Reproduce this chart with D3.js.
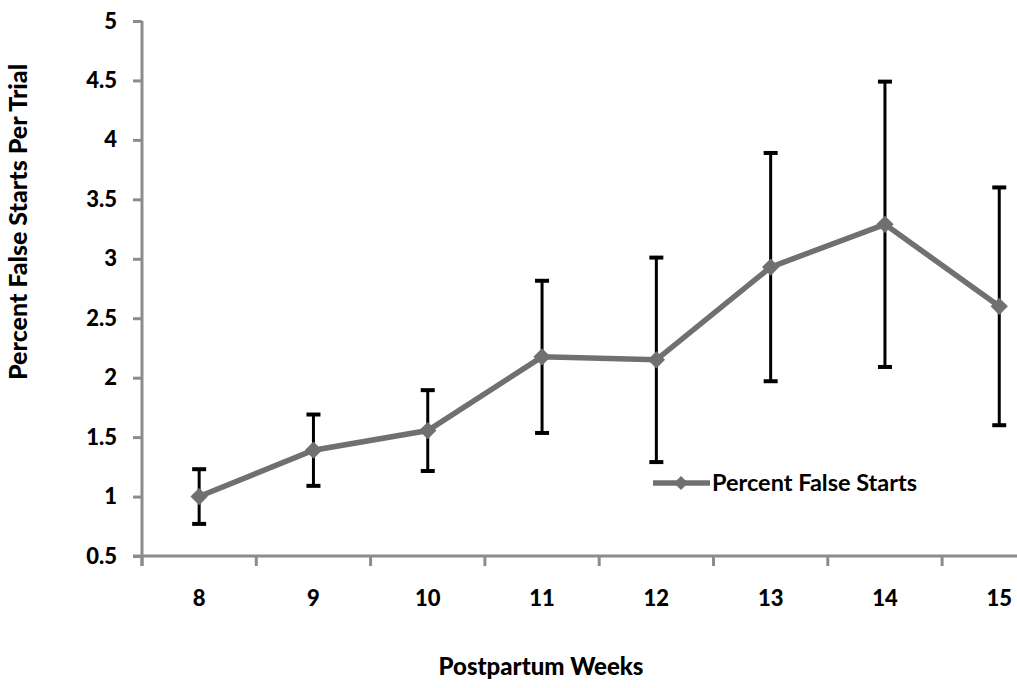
<!DOCTYPE html>
<html>
<head>
<meta charset="utf-8">
<script src="https://cdn.jsdelivr.net/npm/d3@7"></script>
<style>
  body { margin: 0; background: #fff; }
  svg { display: block; }
  text { font-family: Lato, "Open Sans", sans-serif; }
</style>
</head>
<body>
<div id="chart-area"></div>
<script>
// data
var weeks = ["8", "9", "10", "11", "12", "13", "14", "15"];
var falseStarts = [1.0, 1.39, 1.555, 2.175, 2.15, 2.93, 3.29, 2.6];
var errors = [0.23, 0.30, 0.34, 0.64, 0.86, 0.96, 1.20, 1.0];
var yTicks = [0.5, 1, 1.5, 2, 2.5, 3, 3.5, 4, 4.5, 5];

var width = 1017, height = 688;
var plotLeft = 142, plotTop = 21, plotBottom = 556, step = 114.3;

var svg = d3.select("#chart-area")
    .append("svg")
        .attr("width", width)
        .attr("height", height);

var x = d3.scaleBand()
    .domain(weeks)
    .range([plotLeft, plotLeft + step * weeks.length])
    .padding(0);

var y = d3.scaleLinear()
    .domain([0.5, 5])
    .range([plotBottom, plotTop]);

var axisColor = "#8c8c8c";

// Y Axis
var yAxisCall = d3.axisLeft(y)
    .tickValues(yTicks)
    .tickSize(9)
    .tickSizeOuter(0)
    .tickPadding(16)
    .tickFormat(function(d){ return +d; });
var yAxis = svg.append("g")
    .attr("class", "y axis")
    .attr("transform", "translate(" + plotLeft + ",0)")
    .call(yAxisCall);
yAxis.select(".domain").remove();
yAxis.selectAll("line").attr("stroke", axisColor).attr("stroke-width", 3);
yAxis.selectAll("text")
    .attr("font-size", "22px")
    .attr("font-weight", "900")
    .attr("fill", "#000");

// X Axis labels (centred in each band)
var xAxisCall = d3.axisBottom(x)
    .tickSize(0)
    .tickPadding(34);
var xAxis = svg.append("g")
    .attr("class", "x axis")
    .attr("transform", "translate(0," + plotBottom + ")")
    .call(xAxisCall);
xAxis.select(".domain").remove();
xAxis.selectAll("text")
    .attr("font-size", "22px")
    .attr("font-weight", "900")
    .attr("fill", "#000");

// x ticks sit on the band boundaries
var bounds = weeks.map(function(w){ return x(w); });
svg.selectAll(".xtick")
    .data(bounds)
    .enter().append("line")
    .attr("class", "xtick")
    .attr("x1", function(d){ return d; })
    .attr("x2", function(d){ return d; })
    .attr("y1", plotBottom)
    .attr("y2", plotBottom + 10)
    .attr("stroke", axisColor)
    .attr("stroke-width", 3);

svg.append("line")
    .attr("x1", plotLeft - 9).attr("x2", width)
    .attr("y1", plotBottom).attr("y2", plotBottom)
    .attr("stroke", axisColor).attr("stroke-width", 3);
svg.append("line")
    .attr("x1", plotLeft).attr("x2", plotLeft)
    .attr("y1", y(5)).attr("y2", plotBottom + 10)
    .attr("stroke", axisColor).attr("stroke-width", 3);

var cx = function(i){ return x(weeks[i]) + x.bandwidth() / 2; };

// error bars
var bars = svg.selectAll(".err")
    .data(falseStarts)
    .enter().append("g")
    .attr("class", "err");
bars.append("line")
    .attr("x1", function(d, i){ return cx(i); })
    .attr("x2", function(d, i){ return cx(i); })
    .attr("y1", function(d, i){ return y(d + errors[i]); })
    .attr("y2", function(d, i){ return y(d - errors[i]); })
    .attr("stroke", "#000")
    .attr("stroke-width", 3);
[1, -1].forEach(function(sign){
    bars.append("line")
        .attr("x1", function(d, i){ return cx(i) - 7; })
        .attr("x2", function(d, i){ return cx(i) + 7; })
        .attr("y1", function(d, i){ return y(d + sign * errors[i]); })
        .attr("y2", function(d, i){ return y(d + sign * errors[i]); })
        .attr("stroke", "#000")
        .attr("stroke-width", 4);
});

// line + markers
var lineColor = "#707070";
var line = d3.line()
    .x(function(d, i){ return cx(i); })
    .y(function(d){ return y(d); });
svg.append("path")
    .datum(falseStarts)
    .attr("d", line)
    .attr("fill", "none")
    .attr("stroke", lineColor)
    .attr("stroke-width", 5.5);

var diamond = d3.symbol().type(d3.symbolSquare).size(150);
svg.selectAll(".marker")
    .data(falseStarts)
    .enter().append("path")
    .attr("class", "marker")
    .attr("d", diamond)
    .attr("fill", lineColor)
    .attr("transform", function(d, i){
        return "translate(" + cx(i) + "," + y(d) + ") rotate(45)";
    });

// legend
var legend = svg.append("g")
    .attr("transform", "translate(653,483)");
legend.append("line")
    .attr("x1", 0).attr("x2", 57)
    .attr("y1", 0).attr("y2", 0)
    .attr("stroke", lineColor)
    .attr("stroke-width", 5.5);
legend.append("path")
    .attr("d", d3.symbol().type(d3.symbolSquare).size(100))
    .attr("fill", lineColor)
    .attr("transform", "translate(28,0) rotate(45)");
legend.append("text")
    .attr("x", 59)
    .attr("y", 0)
    .attr("dy", "0.35em")
    .attr("font-size", "23.5px")
    .attr("font-weight", "bold")
    .text("Percent False Starts");

// axis titles
svg.append("text")
    .attr("x", 541)
    .attr("y", 675)
    .attr("font-size", "24px")
    .attr("font-weight", "900")
    .attr("text-anchor", "middle")
    .text("Postpartum Weeks");

svg.append("text")
    .attr("transform", "translate(27,222) rotate(-90)")
    .attr("font-size", "25px")
    .attr("font-weight", "900")
    .attr("text-anchor", "middle")
    .text("Percent False Starts Per Trial");
</script>
</body>
</html>
